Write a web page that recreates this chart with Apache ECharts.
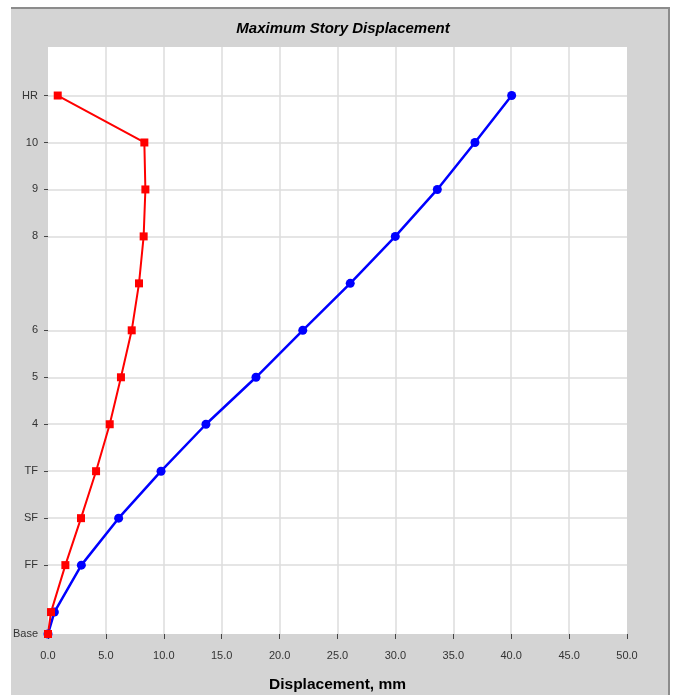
<!DOCTYPE html>
<html>
<head>
<meta charset="utf-8">
<script src="https://cdn.jsdelivr.net/npm/echarts@6/dist/echarts.min.js"></script>
<style>
html,body{margin:0;padding:0;background:#fff;}
#chart{width:676px;height:695px;}
</style>
</head>
<body>
<div id="chart"></div>
<script>
// Story names and elevations (m)
var storyLabels = ['Base', '', 'FF', 'SF', 'TF', '4', '5', '6', '', '8', '9', '10', 'HR'];
var storyElev   = [0, 1.4, 4.4, 7.4, 10.4, 13.4, 16.4, 19.4, 22.4, 25.4, 28.4, 31.4, 34.4];
// Displacements (mm)
var dispBlue = [0, 0.55, 2.88, 6.10, 9.76, 13.64, 17.96, 22.0, 26.1, 29.99, 33.62, 36.87, 40.04];
var dispRed  = [0, 0.26, 1.50, 2.85, 4.15, 5.33, 6.30, 7.23, 7.86, 8.26, 8.41, 8.32, 0.84];
var xTicks = [0, 5, 10, 15, 20, 25, 30, 35, 40, 45, 50];

var labeledElev = storyElev.filter(function (v, i) { return storyLabels[i] !== ''; });

function pairs(d) { return d.map(function (v, i) { return [v, storyElev[i]]; }); }

var chart = echarts.init(document.getElementById('chart'), null, {renderer: 'canvas'});
var font = 'Liberation Sans, Arial, sans-serif';
chart.setOption({
  backgroundColor: '#ffffff',
  animation: false,
  graphic: [
    {type: 'rect', z: -10, shape: {x: 11, y: 7, width: 659, height: 690}, style: {fill: '#d4d4d4'}},
    {type: 'rect', z: -9, shape: {x: 11, y: 7, width: 659, height: 2}, style: {fill: '#8c8c8c'}},
    {type: 'rect', z: -9, shape: {x: 668, y: 7, width: 2, height: 690}, style: {fill: '#8c8c8c'}}
  ],
  title: {
    text: 'Maximum Story Displacement',
    left: 338, top: 16, textAlign: 'center',
    textStyle: {fontFamily: font, fontSize: 15, fontWeight: 'bold', fontStyle: 'italic', color: '#000'}
  },
  grid: {
    left: 48, right: 49, top: 47, bottom: 61,
    outerBoundsMode: 'none', containLabel: false,
    show: true, backgroundColor: '#ffffff', borderWidth: 0
  },
  xAxis: {
    type: 'value', min: 0, max: 50, interval: 5,
    name: 'Displacement, mm', nameLocation: 'middle', nameGap: 43,
    nameTextStyle: {fontFamily: font, fontSize: 15.5, fontWeight: 'bold', color: '#000'},
    axisLine: {show: false},
    axisTick: {show: true, length: 5, lineStyle: {color: '#444'}},
    axisLabel: {fontFamily: font, fontSize: 11, color: '#333', margin: 16,
      formatter: function (v) { return v.toFixed(1); }},
    splitLine: {show: true, showMinLine: false, showMaxLine: false, lineStyle: {color: '#dcdcdc', width: 1.5}}
  },
  yAxis: {
    type: 'value', min: 0, max: 37.5,
    axisLine: {show: false},
    axisTick: {show: true, length: 4, customValues: labeledElev, lineStyle: {color: '#444'}},
    axisLabel: {fontFamily: font, fontSize: 11, color: '#333', margin: 10,
      customValues: labeledElev,
      formatter: function (v) {
        for (var i = 0; i < storyElev.length; i++) {
          if (Math.abs(storyElev[i] - v) < 1e-6) return storyLabels[i];
        }
        return '';
      }},
    splitLine: {show: true, showMinLine: false, lineStyle: {color: '#dcdcdc', width: 1.5}}
  },
  series: [
    {
      type: 'line', data: pairs(dispBlue),
      symbol: 'circle', symbolSize: 9,
      lineStyle: {color: '#0000ff', width: 2.5},
      itemStyle: {color: '#0000ff'}
    },
    {
      type: 'line', data: pairs(dispRed),
      symbol: 'rect', symbolSize: 8,
      lineStyle: {color: '#ff0000', width: 2},
      itemStyle: {color: '#ff0000'}
    }
  ]
});
</script>
</body>
</html>
